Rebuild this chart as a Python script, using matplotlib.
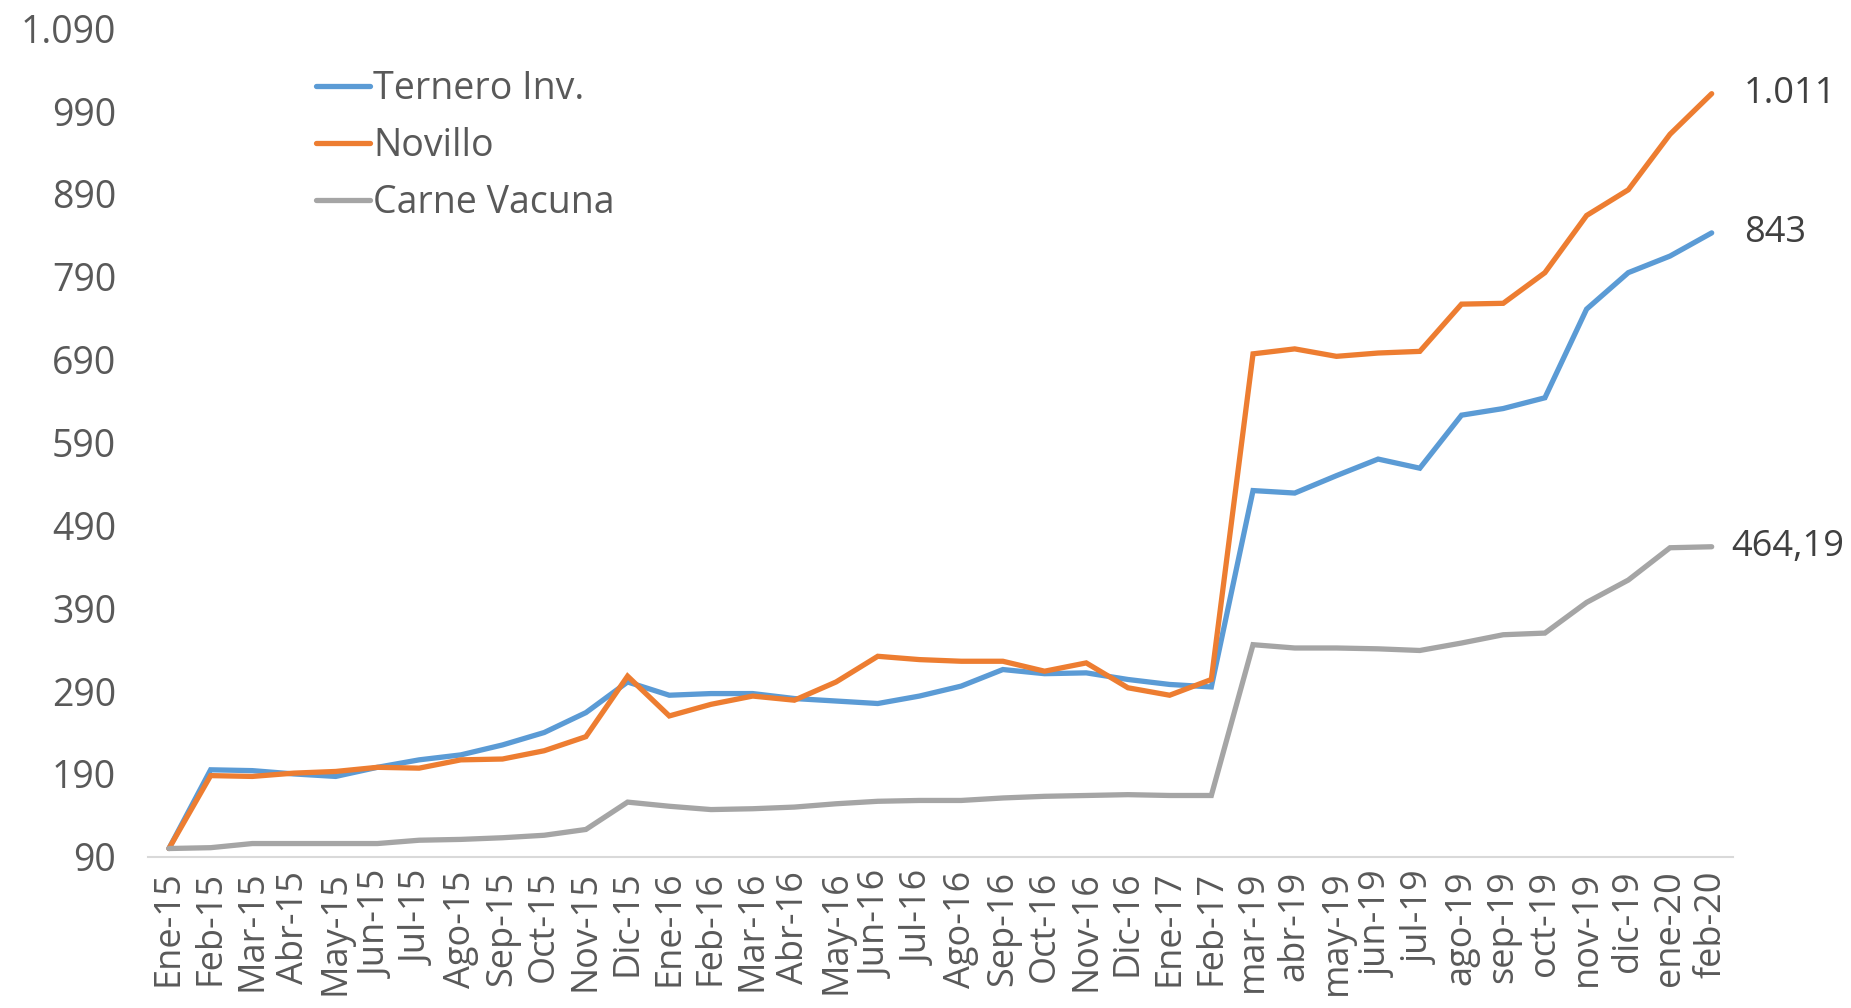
import matplotlib
matplotlib.use("Agg")
import matplotlib.pyplot as plt
from matplotlib.ticker import FuncFormatter

# Datos (índice, Ene-15 = 100)
meses = ["Ene-15", "Feb-15", "Mar-15", "Abr-15", "May-15", "Jun-15", "Jul-15", "Ago-15",
         "Sep-15", "Oct-15", "Nov-15", "Dic-15", "Ene-16", "Feb-16", "Mar-16", "Abr-16",
         "May-16", "Jun-16", "Jul-16", "Ago-16", "Sep-16", "Oct-16", "Nov-16", "Dic-16",
         "Ene-17", "Feb-17", "mar-19", "abr-19", "may-19", "jun-19", "jul-19", "ago-19",
         "sep-19", "oct-19", "nov-19", "dic-19", "ene-20", "feb-20"]

ternero = [100, 195, 194, 190, 187, 198, 207, 213, 225, 240, 264, 301, 285, 287, 287, 281,
           278, 275, 284, 296, 316, 311, 312, 304, 298, 295, 532, 529, 550, 570, 559, 623,
           631, 644, 751, 795, 815, 843]

novillo = [100, 188, 187, 191, 193, 198, 197, 207, 208, 218, 235, 308, 260, 274, 284, 279,
           301, 332, 328, 326, 326, 314, 324, 294, 285, 304, 697, 703, 694, 698, 700, 757,
           758, 795, 864, 895, 962, 1011]

carne = [100, 101, 106, 106, 106, 106, 110, 111, 113, 116, 123, 156, 151, 147, 148, 150,
         154, 157, 158, 158, 161, 163, 164, 165, 164, 164, 346, 342, 342, 341, 339, 348,
         358, 360, 397, 424, 463, 464.19]

etiquetas_finales = ["843", "1.011", "464,19"]

plt.rcParams['font.family'] = ['Open Sans', 'DejaVu Sans']
gris_texto = "#595959"
tam = 27

fig = plt.figure(figsize=(18.51, 10.08), dpi=100)
ax = fig.add_axes([0.08, 0.15, 0.856, 0.822])

x = list(range(len(meses)))
series = [("Ternero Inv.", ternero, "#5B9BD5"),
          ("Novillo", novillo, "#ED7D31"),
          ("Carne Vacuna", carne, "#A5A5A5")]
desplaz = [23, 23, 14]  # separacion de la etiqueta final (pt)

for (nombre, datos, color), etiqueta, dx in zip(series, etiquetas_finales, desplaz):
    ax.plot(x, datos, color=color, lw=3.8, label=nombre, solid_capstyle="round",
            solid_joinstyle="miter")
    ax.annotate(etiqueta, (x[-1], datos[-1]), xytext=(dx, 0), textcoords="offset points",
                va="center", ha="left", fontsize=26, color="#404040",
                annotation_clip=False)

ax.set_xlim(-0.5, len(meses) - 0.5)
ax.set_ylim(90, 1090)
ax.set_yticks(range(90, 1091, 100))
ax.yaxis.set_major_formatter(FuncFormatter(lambda v, p: f"{int(v):,}".replace(",", ".")))
ax.set_xticks(x)
ax.set_xticklabels(meses, rotation=90)

ax.tick_params(axis="y", length=0, pad=23, labelsize=tam, labelcolor=gris_texto)
ax.tick_params(axis="x", length=0, pad=10, labelsize=26, labelcolor=gris_texto)

for lado in ["top", "right", "left"]:
    ax.spines[lado].set_visible(False)
ax.spines["bottom"].set_color("#D9D9D9")
ax.spines["bottom"].set_linewidth(1.5)

leg = ax.legend(loc="upper left", bbox_to_anchor=(0.106, 0.949), frameon=False, fontsize=tam,
                handlelength=1.45, handletextpad=0.08, labelspacing=0.5, borderaxespad=0,
                borderpad=0)
for t in leg.get_texts():
    t.set_color(gris_texto)

fig.savefig("out.png", dpi=100)
